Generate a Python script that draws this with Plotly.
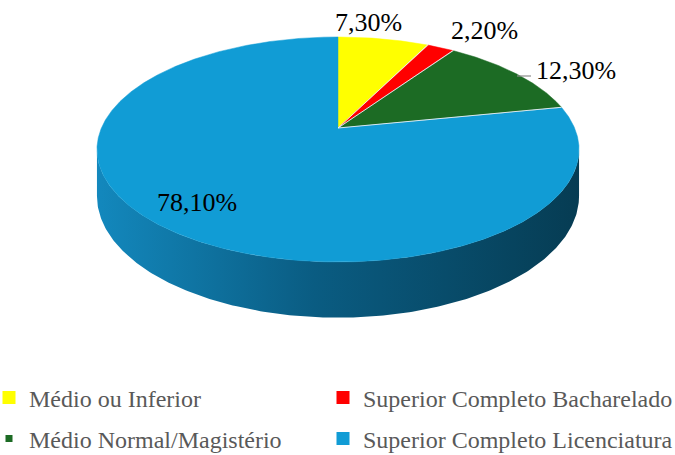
import numpy as np
import plotly.graph_objects as go

# ---- data ----
categories = ["Médio ou Inferior", "Superior Completo Bacharelado",
              "Médio Normal/Magistério", "Superior Completo Licenciatura"]
values = [7.3, 2.2, 12.3, 78.1]
labels = ["7,30%", "2,20%", "12,30%", "78,10%"]
draw_order = [0, 1, 2, 3]  # clockwise from 12 o'clock: yellow, red, green, blue
colors = ["#FFFF00", "#FF0000", "#1C6B24", "#119CD5"]
side_dark = ["#C8C800", "#B00000", "#0F3E14", "#063C53"]
side_mid = ["#D8D800", "#C40000", "#144A1A", "#0A5C82"]
side_light = ["#E6E600", "#D80000", "#18561E", "#1388BD"]

# ---- geometry / style (pixel space) ----
W, H = 675, 455
CX, CY = 338, 128
RX, RY = 236.6, 108.4
K = 0.191          # perspective factor
DEPTH = 45         # pie thickness
FONT = "Liberation Serif"


def proj(theta_deg, r=1.0, depth=0.0):
    t = np.radians(theta_deg)
    X = r * np.sin(t)
    Z = r * np.cos(t)
    s = 1.0 / (1.0 + K * Z)
    return CX + RX * X * s, CY - RY * Z * s + DEPTH * depth * s


fig = go.Figure()

total = sum(values)
starts, ends = [], []
acc = 0.0
for v in values:
    starts.append(acc / total * 360.0)
    acc += v
    ends.append(acc / total * 360.0)

# visible side arc range
vis_a = np.degrees(np.arccos(-K))
vis_b = 360.0 - vis_a

# side faces
for i in draw_order:
    a, b = max(starts[i], vis_a), min(ends[i], vis_b)
    if b <= a:
        continue
    th = np.linspace(a, b, 240)
    xt, yt = proj(th)
    xb, yb = proj(th[::-1], depth=1.0)
    xs = np.concatenate([xt, xb, xt[:1]])
    ys = np.concatenate([yt, yb, yt[:1]])
    fig.add_trace(go.Scatter(
        x=xs, y=ys, mode="lines", fill="toself",
        line=dict(width=0, color=colors[i]),
        fillgradient=dict(type="horizontal",
                          colorscale=[[0, side_light[i]], [0.45, side_mid[i]], [1, side_dark[i]]]),
        hoverinfo="skip", showlegend=False))

# top faces
for i in draw_order:
    th = np.linspace(starts[i], ends[i], max(30, int((ends[i] - starts[i]) * 4)))
    xa, ya = proj(th)
    xs = np.concatenate([[CX], xa, [CX]])
    ys = np.concatenate([[CY], ya, [CY]])
    fig.add_trace(go.Scatter(
        x=xs, y=ys, mode="lines", fill="toself", fillcolor=colors[i],
        line=dict(width=0.5, color=colors[i]),
        hoverinfo="skip", showlegend=False))

# thin light separators between slices
for i in range(1, 4):
    xe, ye = proj(np.array([starts[i]]))
    fig.add_trace(go.Scatter(
        x=[CX, xe[0]], y=[CY, ye[0]], mode="lines",
        line=dict(width=1, color="rgba(235,240,245,0.9)"),
        hoverinfo="skip", showlegend=False))

# legend entries: one legend per entry, arranged in a 2x2 grid
legend_sizes = [13, 13, 7, 13]
legend_ids = ["legend", "legend2", "legend3", "legend4"]
for i in range(4):
    fig.add_trace(go.Scatter(
        x=[None], y=[None], mode="markers", name=categories[i],
        marker=dict(symbol="square", size=legend_sizes[i], color=colors[i]),
        legend=legend_ids[i], showlegend=True))

# data labels
label_xy = [(368, 22), (484, 30), (576, 70), (197, 202)]
for i in range(4):
    fig.add_annotation(x=label_xy[i][0], y=label_xy[i][1], text=labels[i],
                       showarrow=False, xanchor="center", yanchor="middle",
                       font=dict(family=FONT, size=26, color="#000000"))
fig.add_shape(type="line", x0=517, y0=76, x1=531, y1=76,
              line=dict(color="#8C8C8C", width=1.2))

leg_common = dict(orientation="h",
                  font=dict(family=FONT, size=24, color="#595959"),
                  bgcolor="rgba(0,0,0,0)", itemsizing="trace",
                  xanchor="left", yanchor="middle")
col_x = [-11 / W, 323 / W]
row_y = [1 - 398 / H, 1 - 439 / H]

fig.update_layout(
    width=W, height=H,
    margin=dict(l=0, r=0, t=0, b=0, autoexpand=False),
    paper_bgcolor="white", plot_bgcolor="white",
    xaxis=dict(range=[0, W], visible=False, fixedrange=True),
    yaxis=dict(range=[H, 0], visible=False, fixedrange=True),
    legend=dict(x=col_x[0], y=row_y[0], **leg_common),
    legend2=dict(x=col_x[1], y=row_y[0], **leg_common),
    legend3=dict(x=col_x[0], y=row_y[1], **leg_common),
    legend4=dict(x=col_x[1], y=row_y[1], **leg_common),
    showlegend=True,
)

fig.write_html("out.html",
               config={"displayModeBar": False},
               post_script="document.body.style.margin='0';document.body.style.overflow='hidden';")
